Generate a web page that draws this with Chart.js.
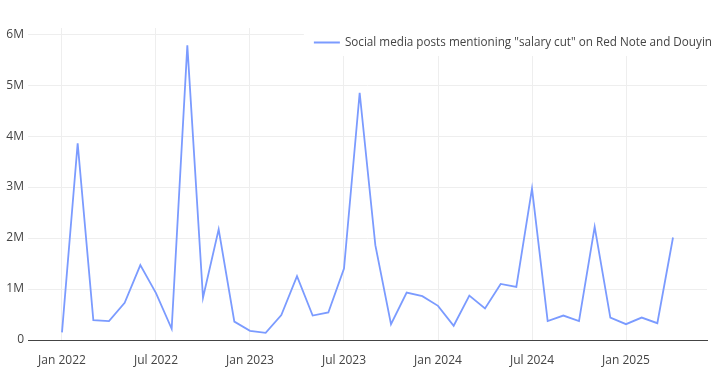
<!DOCTYPE html>
<html>
<head>
<meta charset="utf-8">
<script src="https://cdn.jsdelivr.net/npm/chart.js@4"></script>
<style>
  html, body { margin: 0; padding: 0; background: #fff; }
  #wrap { width: 726px; height: 387px; }
</style>
</head>
<body>
<div id="wrap"><canvas id="postsChart"></canvas></div>
<script>
const SERIES_LABEL = 'Social media posts mentioning "salary cut" on Red Note and Douyin';

// Jan 2022 .. Apr 2025, one value per month
const months = [
  'Jan 2022', 'Feb 2022', 'Mar 2022', 'Apr 2022', 'May 2022', 'Jun 2022',
  'Jul 2022', 'Aug 2022', 'Sep 2022', 'Oct 2022', 'Nov 2022', 'Dec 2022',
  'Jan 2023', 'Feb 2023', 'Mar 2023', 'Apr 2023', 'May 2023', 'Jun 2023',
  'Jul 2023', 'Aug 2023', 'Sep 2023', 'Oct 2023', 'Nov 2023', 'Dec 2023',
  'Jan 2024', 'Feb 2024', 'Mar 2024', 'Apr 2024', 'May 2024', 'Jun 2024',
  'Jul 2024', 'Aug 2024', 'Sep 2024', 'Oct 2024', 'Nov 2024', 'Dec 2024',
  'Jan 2025', 'Feb 2025', 'Mar 2025', 'Apr 2025'
];
const posts = [
  150000, 3860000, 390000, 370000, 730000, 1470000,
  920000, 220000, 5780000, 830000, 2170000, 360000,
  180000, 140000, 490000, 1250000, 480000, 540000,
  1400000, 4850000, 1860000, 310000, 930000, 860000,
  670000, 280000, 870000, 620000, 1100000, 1040000,
  2970000, 370000, 480000, 370000, 2220000, 440000,
  310000, 440000, 330000, 2010000
];
const xTickLabels = ['Jan 2022', 'Jul 2022', 'Jan 2023', 'Jul 2023', 'Jan 2024', 'Jul 2024', 'Jan 2025'];
const yTicks = [0, 1000000, 2000000, 3000000, 4000000, 5000000, 6000000];

const LINE_COLOR = '#7b9bff';
const FONT = "'Open Sans', 'DejaVu Sans', sans-serif";

// legend sits inside the plot, top right, on a white box (like the original)
const insideLegend = {
  id: 'insideLegend',
  beforeDatasetsDraw(chart) {
    const c = chart.ctx;
    const area = chart.chartArea;
    const label = chart.data.datasets[0].label;
    c.save();
    c.font = '11.7px ' + FONT;
    const textW = c.measureText(label).width;
    const right = area.right + 5;
    const left = right - textW - 36;
    c.fillStyle = '#fff';
    c.fillRect(left - 5, area.top, right - left + 5, 28);
    const y = area.top + 14.5;
    c.strokeStyle = LINE_COLOR;
    c.lineWidth = 2;
    c.beginPath();
    c.moveTo(left + 5, y);
    c.lineTo(left + 31, y);
    c.stroke();
    c.fillStyle = '#444';
    c.textBaseline = 'middle';
    c.fillText(label, left + 36, y);
    c.restore();
  }
};

const ctx = document.getElementById('postsChart').getContext('2d');

const chart = new Chart(ctx, {
  type: 'line',
  data: {
    datasets: [{
      label: SERIES_LABEL,
      data: posts.map((v, i) => ({ x: i, y: v })),
      borderColor: LINE_COLOR,
      borderWidth: 1.8,
      pointRadius: 0,
      fill: false,
      tension: 0
    }]
  },
  options: {
    responsive: true,
    maintainAspectRatio: false,
    animation: false,
    layout: { padding: { top: 28, right: 19, left: 0, bottom: 0 } },
    plugins: {
      legend: { display: false },
      tooltip: { enabled: false }
    },
    scales: {
      x: {
        type: 'linear',
        min: -2.17,
        max: 41.17,
        afterBuildTicks: s => { s.ticks = xTickLabels.map(l => ({ value: months.indexOf(l) })); },
        afterFit: s => { s.height = 47; },
        ticks: {
          callback: v => months[v],
          color: '#444',
          font: { family: FONT, size: 12 },
          maxRotation: 0,
          autoSkip: false,
          padding: 13
        },
        grid: { color: '#eeeeee', drawTicks: false },
        border: { display: true, color: '#444', width: 1 }
      },
      y: {
        min: 0,
        max: 6120000,
        afterBuildTicks: s => { s.ticks = yTicks.map(v => ({ value: v })); },
        afterFit: s => { s.width = 28; },
        ticks: {
          callback: v => v === 0 ? '0' : (v / 1000000) + 'M',
          color: '#444',
          font: { family: FONT, size: 12 },
          padding: 4
        },
        grid: { color: '#eeeeee', drawTicks: false },
        border: { display: false }
      }
    }
  },
  plugins: [insideLegend]
});
</script>
</body>
</html>
